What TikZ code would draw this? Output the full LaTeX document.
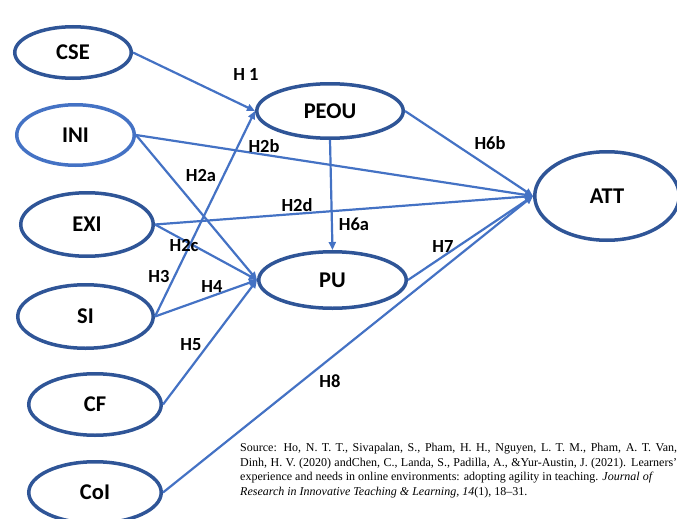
\documentclass[tikz,border=0pt]{standalone}
\usepackage{fontspec}
\setmainfont{Liberation Serif}
\newfontfamily\labelfont{Carlito}
\usetikzlibrary{arrows.meta,shapes.geometric}
\definecolor{darkblue}{RGB}{47,85,151}
\definecolor{lineblue}{RGB}{68,114,196}
\tikzset{construct/.style={ellipse,draw=darkblue,line width=3.5pt,inner sep=0pt,
    font=\labelfont\bfseries\fontsize{22.5}{26}\selectfont},
  link/.style={-{Triangle[length=8pt,width=7pt]},draw=lineblue,line width=2.2pt},
  hyp/.style={font=\labelfont\bfseries\fontsize{18.5}{22}\selectfont,inner sep=0pt}}
\begin{document}
\begin{tikzpicture}[x=1pt,y=-1pt]
\useasboundingbox (0,0) rectangle (677,519);
% constructs
\node (cse) [construct,minimum width=116.5pt,minimum height=51.5pt] at (73,52.5) {CSE};
\node (ini) [construct,draw=lineblue,minimum width=117.5pt,minimum height=60.5pt] at (75.5,135) {INI};
\node (exi) [construct,minimum width=132.5pt,minimum height=63.5pt] at (87,224.5) {EXI};
\node (si) [construct,minimum width=135.5pt,minimum height=63.5pt] at (85.5,316.5) {SI};
\node (cf) [construct,minimum width=132.5pt,minimum height=61.5pt] at (95,404.5) {CF};
\node (coi) [construct,minimum width=132.5pt,minimum height=61.5pt] at (95,492.5) {CoI};
\node (peou) [construct,minimum width=146.5pt,minimum height=54.5pt] at (330,111) {PEOU};
\node (pu) [construct,minimum width=147.5pt,minimum height=56.5pt] at (332.5,280) {PU};
\node (att) [construct,minimum width=144.5pt,minimum height=88.5pt] at (607,196) {ATT};
%
\draw[link] (cse.east) -- (peou.west);
\draw[link] (ini.east) -- (att.west);
\draw[link] (ini.east) -- (pu.west);
\draw[link] (exi.east) -- (att.west);
\draw[link] (exi.east) -- (pu.west);
\draw[link] (si.east) -- (peou.west);
\draw[link] (si.east) -- (pu.west);
\draw[link] (cf.east) -- (pu.west);
\draw[link] (coi.east) -- (att.west);
\draw[link] (peou.south) -- (pu.north);
\draw[link] (peou.east) -- (att.west);
\draw[link] (pu.east) -- (att.west);
% hypotheses
\node (h1) [hyp] at (246,74) {H 1};
\node (h2a) [hyp] at (201,176) {H2a};
\node (h2b) [hyp] at (264,146) {H2b};
\node (h2c) [hyp] at (184,245) {H2c};
\node (h2d) [hyp] at (297,205) {H2d};
\node (h3) [hyp] at (159,276) {H3};
\node (h4) [hyp] at (212,286) {H4};
\node (h5) [hyp] at (191,345) {H5};
\node (h6a) [hyp] at (354,224) {H6a};
\node (h6b) [hyp] at (490,143) {H6b};
\node (h7) [hyp] at (443,246) {H7};
\node (h8) [hyp] at (330,381) {H8};
%
\node (source) [anchor=north west,inner sep=0pt,align=left,font=\fontsize{12}{14.5}\selectfont] at (240,443)
  {\makebox[437pt][s]{Source: Ho, N. T. T., Sivapalan, S., Pham, H. H., Nguyen, L. T. M., Pham, A. T. Van,}\\
   \makebox[437pt][s]{Dinh, H. V. (2020) andChen, C., Landa, S., Padilla, A., \&Yur-Austin, J. (2021). Learners'}\\
   experience and needs in online environments: adopting agility in teaching. \textit{Journal of}\\
   \textit{Research in Innovative Teaching \& Learning, 14}(1), 18--31.};
\end{tikzpicture}
\end{document}
